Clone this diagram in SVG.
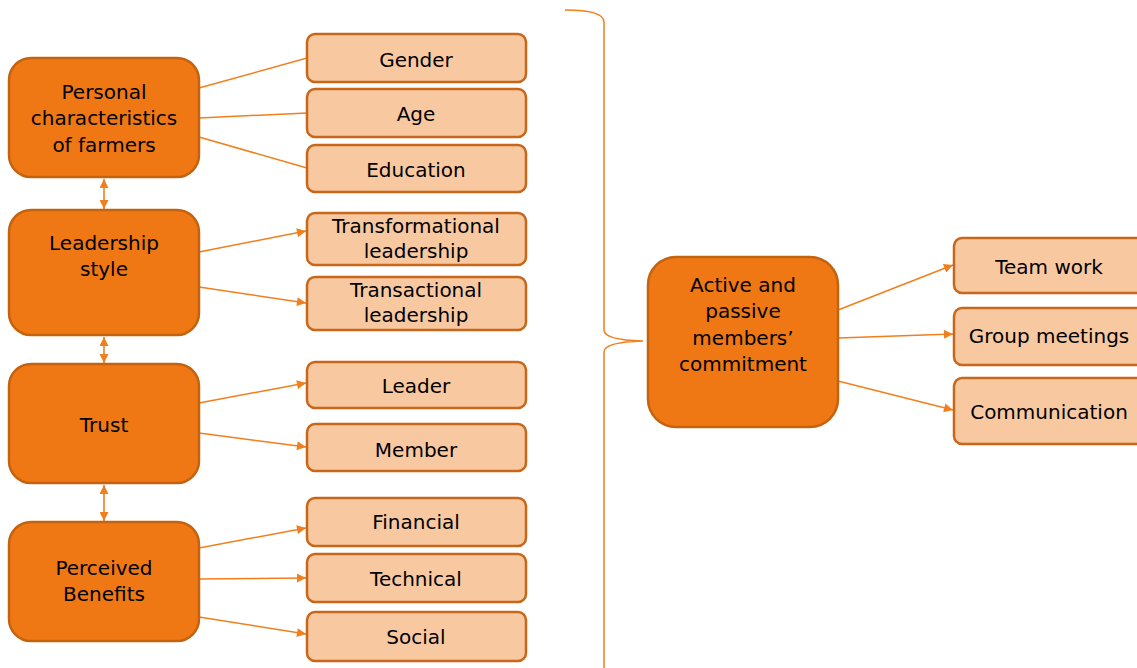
<svg xmlns="http://www.w3.org/2000/svg" width="1137" height="668" viewBox="0 0 1137 668">
<style>
.main{fill:#EF7815;stroke:#C4630F;stroke-width:2.5}
.sub{fill:#F8C9A0;stroke:#C8661A;stroke-width:2.5}
.t{font-family:"DejaVu Sans",Verdana,sans-serif;font-size:20px;fill:#000;text-anchor:middle}
.ln{stroke:#F07F1E;stroke-width:1.5;fill:none}
.ar{stroke:#F07F1E;stroke-width:1.5;fill:none;marker-end:url(#ah)}
.dar{stroke:#F07F1E;stroke-width:1.6;fill:none;marker-end:url(#ah);marker-start:url(#ahs)}
</style>
<defs>
<marker id="ah" viewBox="0 0 10 10" refX="10" refY="5" markerWidth="10" markerHeight="9" markerUnits="userSpaceOnUse" orient="auto"><path d="M0,0 L10,5 L0,10 z" fill="#F07F1E"/></marker>
<marker id="ahs" viewBox="0 0 10 10" refX="0" refY="5" markerWidth="10" markerHeight="9" markerUnits="userSpaceOnUse" orient="auto"><path d="M10,0 L0,5 L10,10 z" fill="#F07F1E"/></marker>
</defs>
<g id="connectors">
<line class="ln" x1="199" y1="88" x2="307" y2="58"/>
<line class="ln" x1="199" y1="118" x2="307" y2="113"/>
<line class="ln" x1="199" y1="137" x2="307" y2="168"/>
<line class="ar" x1="199" y1="252" x2="306" y2="231"/>
<line class="ar" x1="199" y1="287" x2="306" y2="303"/>
<line class="ar" x1="199" y1="403" x2="306" y2="383"/>
<line class="ar" x1="199" y1="433" x2="306" y2="447"/>
<line class="ar" x1="199" y1="548" x2="306" y2="528"/>
<line class="ar" x1="199" y1="579" x2="306" y2="578"/>
<line class="ar" x1="199" y1="617" x2="306" y2="634"/>
<line class="dar" x1="104" y1="179" x2="104" y2="209"/>
<line class="dar" x1="104" y1="337" x2="104" y2="363"/>
<line class="dar" x1="104" y1="485" x2="104" y2="521"/>
<line class="ar" x1="838" y1="310" x2="953" y2="265"/>
<line class="ar" x1="838" y1="338" x2="953" y2="334"/>
<line class="ar" x1="838" y1="381" x2="953" y2="410"/>
<path class="ln" d="M565,10 Q604,10 604,22 L604,330 Q604,340 643,341 Q604,342 604,352 L604,668"/>
</g>
<g id="personal"><rect class="main" x="9" y="58" width="190" height="119" rx="22"/>
<text class="t" x="104" y="99">Personal</text><text class="t" x="104" y="125">characteristics</text><text class="t" x="104" y="152">of farmers</text></g>
<g id="leadership"><rect class="main" x="9" y="210" width="190" height="125" rx="22"/>
<text class="t" x="104" y="250">Leadership</text><text class="t" x="104" y="276">style</text></g>
<g id="trust"><rect class="main" x="9" y="364" width="190" height="119" rx="22"/>
<text class="t" x="104" y="432">Trust</text></g>
<g id="benefits"><rect class="main" x="9" y="522" width="190" height="119" rx="22"/>
<text class="t" x="104" y="575">Perceived</text><text class="t" x="104" y="601">Benefits</text></g>
<g id="gender"><rect class="sub" x="307" y="34" width="219" height="48" rx="8"/><text class="t" x="416" y="67">Gender</text></g>
<g id="age"><rect class="sub" x="307" y="89" width="219" height="48" rx="8"/><text class="t" x="416" y="121">Age</text></g>
<g id="education"><rect class="sub" x="307" y="145" width="219" height="47" rx="8"/><text class="t" x="416" y="177">Education</text></g>
<g id="transformational"><rect class="sub" x="307" y="213" width="219" height="52" rx="8"/><text class="t" x="416" y="233">Transformational</text><text class="t" x="416" y="258">leadership</text></g>
<g id="transactional"><rect class="sub" x="307" y="277" width="219" height="53" rx="8"/><text class="t" x="416" y="297">Transactional</text><text class="t" x="416" y="322">leadership</text></g>
<g id="leader"><rect class="sub" x="307" y="362" width="219" height="46" rx="8"/><text class="t" x="416" y="393">Leader</text></g>
<g id="member"><rect class="sub" x="307" y="424" width="219" height="47" rx="8"/><text class="t" x="416" y="457">Member</text></g>
<g id="financial"><rect class="sub" x="307" y="498" width="219" height="48" rx="8"/><text class="t" x="416" y="529">Financial</text></g>
<g id="technical"><rect class="sub" x="307" y="554" width="219" height="48" rx="8"/><text class="t" x="416" y="586">Technical</text></g>
<g id="social"><rect class="sub" x="307" y="612" width="219" height="49" rx="8"/><text class="t" x="416" y="644">Social</text></g>
<g id="commitment"><rect class="main" x="648" y="257" width="190" height="170" rx="28"/>
<text class="t" x="743" y="292">Active and</text><text class="t" x="743" y="318">passive</text><text class="t" x="743" y="345">members’</text><text class="t" x="743" y="371">commitment</text></g>
<g id="teamwork"><rect class="sub" x="954" y="238" width="200" height="55" rx="8"/><text class="t" x="1049" y="274">Team work</text></g>
<g id="meetings"><rect class="sub" x="954" y="308" width="200" height="57" rx="8"/><text class="t" x="1049" y="343">Group meetings</text></g>
<g id="communication"><rect class="sub" x="954" y="378" width="200" height="66" rx="8"/><text class="t" x="1049" y="419">Communication</text></g>
</svg>
